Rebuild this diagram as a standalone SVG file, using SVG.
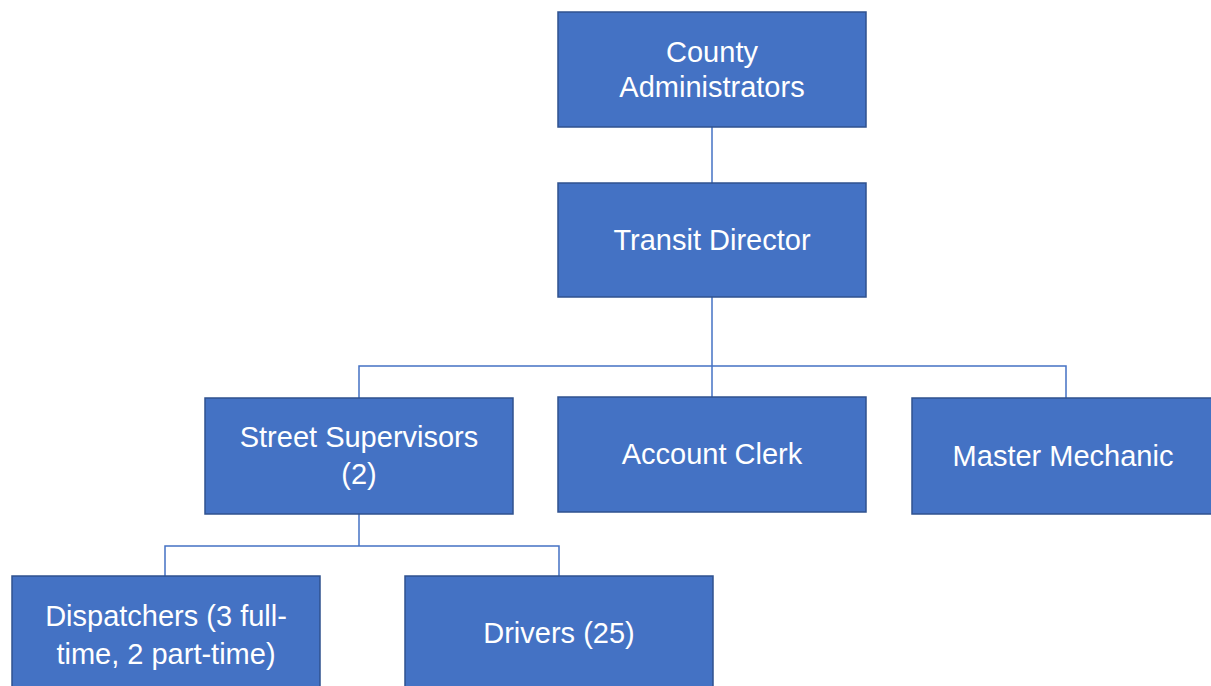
<svg xmlns="http://www.w3.org/2000/svg" width="1211" height="686" viewBox="0 0 1211 686">
<style>
.box{fill:#4472C4;stroke:#2F528F;stroke-width:1.5}
.lbl{fill:#FFFFFF;font-family:"Liberation Sans",Arial,sans-serif;font-size:29px;text-anchor:middle}
.con{fill:none;stroke:#4472C4;stroke-width:1.5}
</style>
<rect width="1211" height="686" fill="#FFFFFF"/>
<g id="connectors">
<path class="con" d="M712 127 V183"/>
<path class="con" d="M712 297 V397"/>
<path class="con" d="M359 398 V366 H1066 V398"/>
<path class="con" d="M359 514 V546"/>
<path class="con" d="M165 576 V546 H559 V576"/>
</g>
<g id="county-administrators">
<rect class="box" x="558" y="12" width="308" height="115"/>
<text class="lbl" x="712" y="62">County</text>
<text class="lbl" x="712" y="97">Administrators</text>
</g>
<g id="transit-director">
<rect class="box" x="558" y="183" width="308" height="114"/>
<text class="lbl" x="712" y="250">Transit Director</text>
</g>
<g id="street-supervisors">
<rect class="box" x="205" y="398" width="308" height="116"/>
<text class="lbl" x="359" y="447">Street Supervisors</text>
<text class="lbl" x="359" y="484">(2)</text>
</g>
<g id="account-clerk">
<rect class="box" x="558" y="397" width="308" height="115"/>
<text class="lbl" x="712" y="464">Account Clerk</text>
</g>
<g id="master-mechanic">
<rect class="box" x="912" y="398" width="308" height="116"/>
<text class="lbl" x="1063" y="466">Master Mechanic</text>
</g>
<g id="dispatchers">
<rect class="box" x="12" y="576" width="308" height="116"/>
<text class="lbl" x="166" y="626">Dispatchers (3 full-</text>
<text class="lbl" x="166" y="664">time, 2 part-time)</text>
</g>
<g id="drivers">
<rect class="box" x="405" y="576" width="308" height="116"/>
<text class="lbl" x="559" y="643">Drivers (25)</text>
</g>
</svg>
